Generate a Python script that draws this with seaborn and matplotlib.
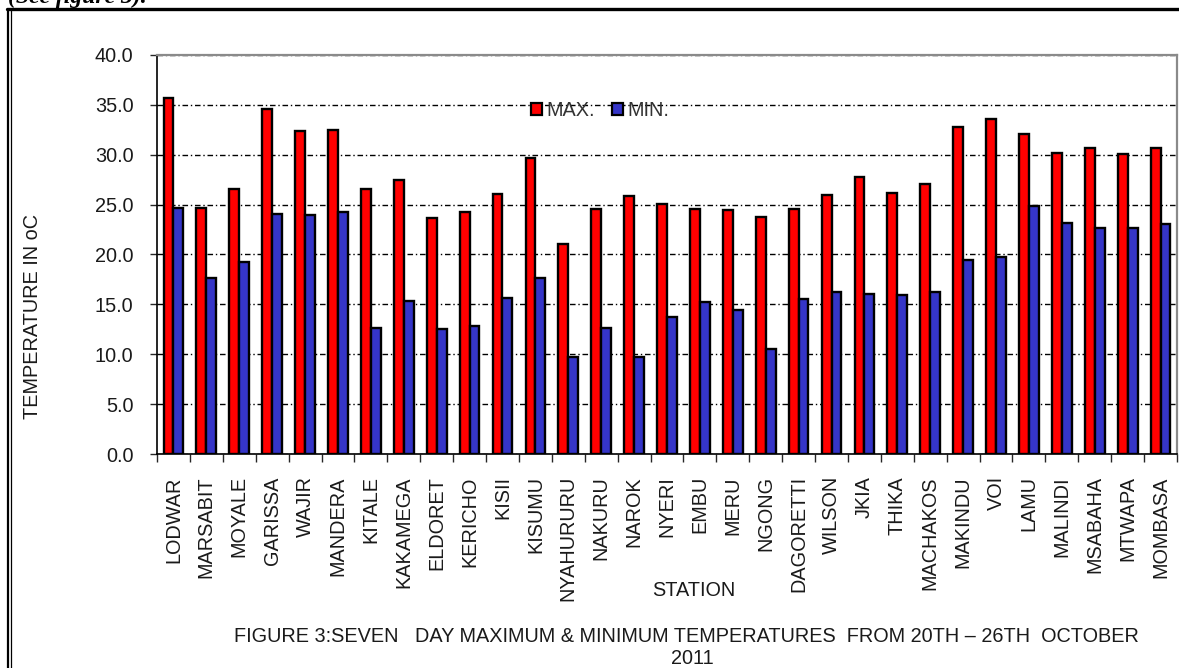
import matplotlib
matplotlib.use("Agg")
import matplotlib.pyplot as plt
from matplotlib.lines import Line2D
from matplotlib.ticker import FixedLocator, FormatStrFormatter
import seaborn as sns
import pandas as pd

stations = ["LODWAR", "MARSABIT", "MOYALE", "GARISSA", "WAJIR", "MANDERA", "KITALE",
            "KAKAMEGA", "ELDORET", "KERICHO", "KISII", "KISUMU", "NYAHURURU", "NAKURU",
            "NAROK", "NYERI", "EMBU", "MERU", "NGONG", "DAGORETTI", "WILSON", "JKIA",
            "THIKA", "MACHAKOS", "MAKINDU", "VOI", "LAMU", "MALINDI", "MSABAHA",
            "MTWAPA", "MOMBASA"]
max_temp = [35.7, 24.7, 26.6, 34.6, 32.4, 32.5, 26.6, 27.5, 23.7, 24.3, 26.1, 29.7,
            21.1, 24.6, 25.9, 25.1, 24.6, 24.5, 23.8, 24.6, 26.0, 27.8, 26.2, 27.1,
            32.8, 33.6, 32.1, 30.2, 30.7, 30.1, 30.7]
min_temp = [24.7, 17.6, 19.2, 24.1, 24.0, 24.3, 12.6, 15.3, 12.5, 12.8, 15.6, 17.6,
            9.7, 12.6, 9.7, 13.7, 15.2, 14.4, 10.5, 15.5, 16.2, 16.0, 15.9, 16.2,
            19.4, 19.7, 24.9, 23.2, 22.7, 22.7, 23.1]
series = ["MAX.", "MIN."]
yticks = [0, 5, 10, 15, 20, 25, 30, 35, 40]

df = pd.DataFrame({
    "STATION": stations * 2,
    "TEMP": max_temp + min_temp,
    "TYPE": [series[0]] * len(stations) + [series[1]] * len(stations),
})

sns.set_style("white")
plt.rcParams["font.family"] = ["Liberation Sans", "DejaVu Sans"]
TXT = "#1a1a1a"
FS = 14.3

W, H = 1179, 668
fig = plt.figure(figsize=(W / 100, H / 100), dpi=100)
fig.patch.set_facecolor("white")
ax = fig.add_axes([157 / W, 1 - 454 / H, (1177 - 157) / W, (454 - 55) / H])

sns.barplot(data=df, x="STATION", y="TEMP", hue="TYPE", order=stations,
            hue_order=series, palette={"MAX.": "#FF0000", "MIN.": "#3535C8"},
            saturation=1, width=0.6, gap=0, edgecolor="black", linewidth=1.7,
            errorbar=None, ax=ax)

ax.set_xlim(-0.5, len(stations) - 0.5)
ax.set_ylim(yticks[0], yticks[-1])
ax.set_yticks(yticks)
ax.yaxis.set_major_formatter(FormatStrFormatter("%.1f"))
ax.tick_params(axis="y", direction="out", length=5, width=1, pad=12,
               labelsize=FS, labelcolor=TXT, left=True)
ax.tick_params(axis="x", which="major", length=0, pad=16, labelsize=FS,
               labelcolor=TXT, labelrotation=90)
ax.xaxis.set_minor_locator(FixedLocator([i - 0.5 for i in range(len(stations) + 1)]))
ax.tick_params(axis="x", which="minor", direction="out", length=6, width=1,
               bottom=True)
for lbl in ax.get_xticklabels():
    lbl.set_va("top")
ax.set_xlabel("")
ax.set_ylabel("")

ax.set_axisbelow(True)
ax.yaxis.grid(True, color="black", linewidth=1.0, linestyle=(0, (4, 2, 1, 2)))
ax.xaxis.grid(False)
for s in ["left", "bottom"]:
    ax.spines[s].set_color("black")
    ax.spines[s].set_linewidth(1.2)
for s in ["top", "right"]:
    ax.spines[s].set_color("#8a8a8a")
    ax.spines[s].set_linewidth(1.6)

leg = ax.legend(loc="center left", bbox_to_anchor=(531 / W, 1 - 111 / H),
                bbox_transform=fig.transFigure, ncol=2, frameon=False,
                fontsize=FS, handlelength=0.55, handleheight=0.55,
                handletextpad=0.2, columnspacing=0.9, borderpad=0,
                borderaxespad=0)
for t in leg.get_texts():
    t.set_color("#333333")
for h in leg.legend_handles:
    h.set_edgecolor("black")
    h.set_linewidth(1.6)

fig.text(33 / W, 1 - 316 / H, "TEMPERATURE IN oC", rotation=90, ha="center",
         va="center", fontsize=FS, color=TXT)
fig.text(694 / W, 1 - 591 / H, "STATION", ha="center", va="center",
         fontsize=FS, color=TXT)
fig.text(686 / W, 1 - 637 / H,
         "FIGURE 3:SEVEN   DAY MAXIMUM & MINIMUM TEMPERATURES  FROM 20TH \u2013 26TH  OCTOBER",
         ha="center", va="center", fontsize=FS, color=TXT)
fig.text(692 / W, 1 - 658 / H, "2011", ha="center", va="center",
         fontsize=FS, color=TXT)

# page frame and heading above (cropped in the source page)
fig.add_artist(Line2D([7 / W, 1], [1 - 8.5 / H] * 2, lw=2.4, color="black",
                      transform=fig.transFigure))
fig.add_artist(Line2D([8 / W] * 2, [0, 1 - 8.5 / H], lw=1.6, color="black",
                      transform=fig.transFigure))
fig.add_artist(Line2D([10.8 / W] * 2, [0, 1 - 10 / H], lw=0.9, color="black",
                      transform=fig.transFigure))
fig.text(8 / W, 1 - 3 / H, "(See figure 3).", ha="left", va="baseline",
         fontsize=17, fontweight="bold", fontstyle="italic",
         family=["Liberation Serif", "DejaVu Serif"], color="black")

fig.savefig("out.png", dpi=100)
